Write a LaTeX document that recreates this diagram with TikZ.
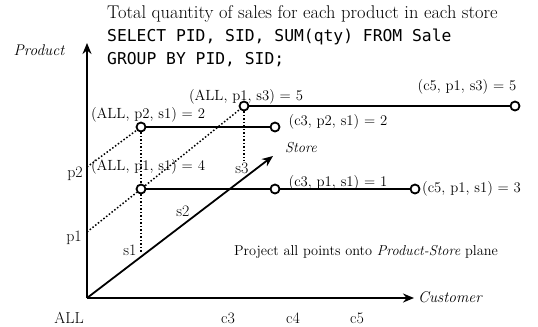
\documentclass[tikz,border=0pt]{standalone}
\usepackage{fontspec}
\newfontfamily\sqlfont{DejaVu Sans Mono}
\usetikzlibrary{arrows.meta}
\begin{document}
\begin{tikzpicture}[x=1bp,y=-1bp,
  axis/.style={line width=1.8bp,-{Stealth[length=11bp,width=9bp]}},
  seg/.style={line width=1.8bp},
  dots/.style={line width=1.5bp,dotted},
  pt/.style={circle,draw,line width=1.8bp,minimum size=9bp,inner sep=0pt,fill=white},
  lab/.style={inner sep=0pt,font=\fontsize{14.8}{17}\selectfont},
  tick/.style={inner sep=0pt,font=\fontsize{16}{18}\selectfont},
  axlab/.style={inner sep=0pt,font=\fontsize{15.5}{17}\selectfont\itshape},
]
\useasboundingbox[fill=white] (0,0) rectangle (538,326);

% axes
\coordinate (O) at (87,298);
\coordinate (ytip) at (87,43);
\coordinate (xtip) at (414,298);
\coordinate (ztip) at (273,156);
\coordinate (p1) at (87,232);
\coordinate (p2) at (87,167);
\coordinate (s1) at (141,253);
\coordinate (s3) at (244,161);

\draw[axis] (O) -- (ytip);
\draw[axis] (O) -- (xtip);
\draw[axis] (O) -- (ztip);

% points
\node[pt] (a13) at (244,106) {};
\node[pt] (a21) at (141,127) {};
\node[pt] (a11) at (141,189) {};
\node[pt] (c321) at (275,127) {};
\node[pt] (c513) at (515,106) {};
\node[pt] (c311) at (275,189) {};
\node[pt] (c511) at (415,189) {};

% dotted projections
\draw[dots] (p2) -- (a21);
\draw[dots] (p1) -- (a11);
\draw[dots] (a11) -- (a13);
\draw[dots] (a21) -- (a11);
\draw[dots] (a11) -- (s1);
\draw[dots] (a13) -- (s3);

% solid segments
\draw[seg] (a13) -- (c513);
\draw[seg] (a21) -- (c321);
\draw[seg] (a11) -- (c311);
\draw[seg] (c311) -- (c511);

% point labels
\node[lab] (l13) at (246,97) {(ALL, p1, s3) = 5};
\node[lab] (l513) at (467,87) {(c5, p1, s3) = 5};
\node[lab] (l21) at (148,115) {(ALL, p2, s1) = 2};
\node[lab] (l321) at (338,122) {(c3, p2, s1) = 2};
\node[lab] (l11) at (148,167) {(ALL, p1, s1) = 4};
\node[lab] (l311) at (338,183) {(c3, p1, s1) = 1};
\node[lab,anchor=west] (l511) at (422,189) {(c5, p1, s1) = 3};

% axis labels
\node[axlab] (lprod) at (39,50) {Product};
\node[axlab,anchor=west] (lcust) at (418,297) {Customer};
\node[axlab,anchor=west,font=\fontsize{14.5}{16}\selectfont\itshape] (lstore) at (285,148) {Store};

% ticks
\node[tick] (tp2) at (75,174) {p2};
\node[tick] (tp1) at (74,238) {p1};
\node[tick] (ts1) at (130,250) {s1};
\node[tick] (ts2) at (183,211) {s2};
\node[tick] (ts3) at (242,168) {s3};
\node[tick] (tall) at (69,318) {ALL};
\node[tick] (tc3) at (228,318) {c3};
\node[tick] (tc4) at (293,318) {c4};
\node[tick] (tc5) at (357,318) {c5};

% captions
\node[inner sep=0pt,font=\fontsize{14.4}{16}\selectfont] (proj) at (366,252) {Project all points onto \textit{Product-Store} plane};
\node[inner sep=0pt,anchor=west,font=\fontsize{18.5}{21}\selectfont] (title) at (107,14) {Total quantity of sales for each product in each store};
\node[inner sep=0pt,anchor=west,font=\fontsize{16.4}{19}\sqlfont] (sql1) at (107,37) {SELECT PID, SID, SUM(qty) FROM Sale};
\node[inner sep=0pt,anchor=west,font=\fontsize{16.4}{19}\sqlfont] (sql2) at (107,60) {GROUP BY PID, SID;};
\end{tikzpicture}
\end{document}
